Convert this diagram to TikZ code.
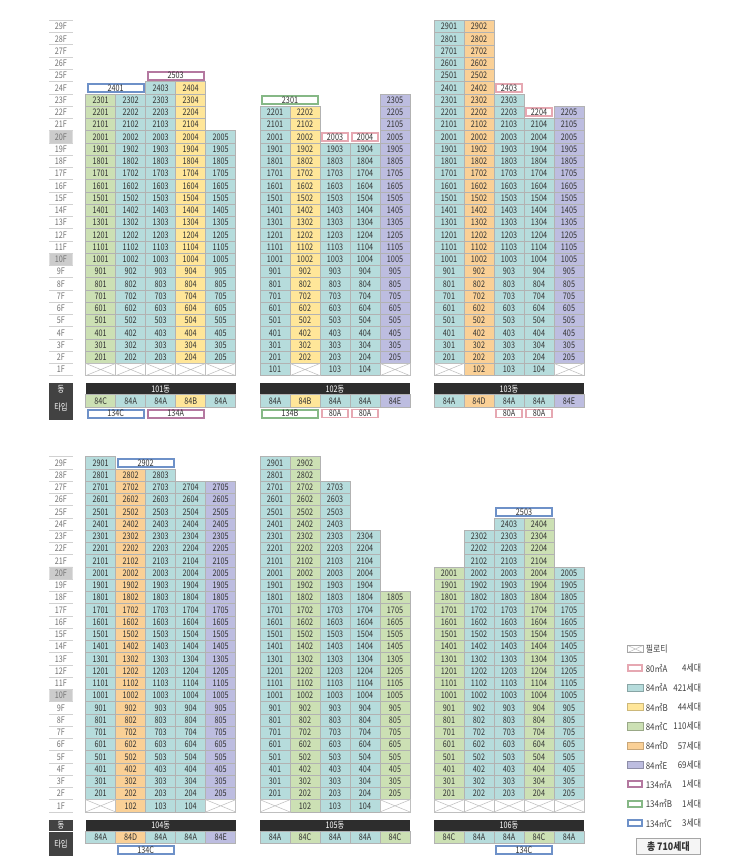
\documentclass[tikz,border=0pt]{standalone}
\usepackage{fontspec}
\setmainfont{Noto Sans CJK KR}
\newfontfamily\cellfont[FakeStretch=0.8]{Noto Sans CJK KR}
\newfontfamily\legfont[FakeStretch=0.85]{Noto Sans CJK KR}
\usepackage{tikz}

\definecolor{c84A}{HTML}{B6DCDC}
\definecolor{c84B}{HTML}{FFE699}
\definecolor{c84C}{HTML}{CCE0B4}
\definecolor{c84D}{HTML}{FAD096}
\definecolor{c84E}{HTML}{BDBDE0}
\definecolor{c80A}{HTML}{E6A8B2}
\definecolor{c134A}{HTML}{B478A0}
\definecolor{c134B}{HTML}{86B886}
\definecolor{c134C}{HTML}{6E91C8}
\definecolor{cbar}{HTML}{2D2D2D}

\def\cw{22.5pt}
\def\ch{9.1875pt}
\newcommand\cellsize{\cellfont\fontsize{6.8pt}{7pt}\selectfont}

\tikzset{
    cell/.style={draw=black!30, line width=0.4pt, inner sep=0pt, outer sep=0pt,
        minimum width=\cw, minimum height=\ch, font=\cellsize, text=black!80},
    a84A/.style={cell, fill=c84A},
    a84B/.style={cell, fill=c84B},
    a84C/.style={cell, fill=c84C},
    a84D/.style={cell, fill=c84D},
    a84E/.style={cell, fill=c84E},
    piloti/.style={cell, fill=white, draw=black!25,
        path picture={\draw[black!25, line width=0.4pt]
            (path picture bounding box.north west) -- (path picture bounding box.south east)
            (path picture bounding box.south west) -- (path picture bounding box.north east);}},
    ring/.style={cell, fill=white, line width=1.5pt,
        minimum width=\cw-3.3pt, minimum height=\ch-3.2pt},
    wide/.style={minimum width=2*\cw-3.3pt},
    r80A/.style={ring, draw=c80A, line width=1.2pt},
    r134A/.style={ring, draw=c134A},
    r134B/.style={ring, draw=c134B},
    r134C/.style={ring, draw=c134C},
    bar/.style={fill=cbar, text=white, inner sep=0pt, minimum width=5*\cw,
        minimum height=0.95*\ch, font=\cellsize},
    flr/.style={inner sep=0pt, minimum width=17.5pt, minimum height=\ch,
        font=\cellsize, text=black!55},
    flrline/.style={black!18, line width=0.6pt},
    hlfloor/.style={fill=black!20},
    hdr/.style={fill=cbar!90!white, text=white, inner sep=0pt, minimum width=17.5pt,
        font=\cellsize},
    lgfill/.style={inner sep=0pt, minimum width=11.4pt, minimum height=5.4pt, line width=0.6pt},
    lgring/.style={fill=white, inner sep=0pt, minimum width=10.4pt, minimum height=4.4pt, line width=1.6pt},
    lgpil/.style={piloti, draw=black!35, minimum width=11.4pt, minimum height=5.4pt, line width=0.6pt},
    legtext/.style={inner sep=0pt, text=black!75, font=\legfont\fontsize{7pt}{8pt}\selectfont},
    total/.style={draw=black!35, fill=black!4, line width=0.8pt, inner sep=0pt,
        minimum width=47.7pt, minimum height=12pt,
        font=\legfont\bfseries\fontsize{7.8pt}{8pt}\selectfont, text=black!80}
}

% one column of flats: column, lowest floor, highest floor, style
\newcommand\aptcol[4]{%
    \foreach \f in {#2,...,#3}{\node[#4] (b\bld-\f0#1) at (#1-0.5,29.5-\f) {\f0#1};}}
\newcommand\pilotis[1]{%
    \foreach \c in {#1}{\node[piloti] (b\bld-p\c) at (\c-0.5,28.5) {};}}
% outlined flat: centre x, floor, style, number
\newcommand\bigapt[4]{\node[#3] (b\bld-#4) at (#1,29.5-#2) {#4};}
\newcommand\dongbar{\node[bar] (d\bld) at (2.5,30.1) {\bld{}동};}
\newcommand\typecell[2]{\node[a#2] (t\bld-#1) at (#1-0.5,31.05) {#2};}
\newcommand\legitem[5]{%
    \node[#2] (sw#5) at (635.3,#1) {};
    \node[legtext, anchor=west] (lb#5) at (645.5,#1) {#3};
    \node[legtext, anchor=east] (ct#5) at (701.5,#1) {#4};}

\begin{document}
\begin{tikzpicture}[x=0.75pt, y=-0.75pt]
    \useasboundingbox (0,0) rectangle (750,856);

    % floor labels
    \foreach \blk/\yy in {top/20.4, bot/456.7}{
    \begin{scope}[shift={(49.3,\yy)}, x=17.5pt, y=-\ch]
        \fill[hlfloor] (0,9) rectangle (1,10) (0,19) rectangle (1,20);
        \foreach \r in {0,...,29} \draw[flrline] (0,\r) -- (1,\r);
        \foreach \f in {1,...,29} \node[flr] (\blk-f\f) at (0.5,29.5-\f) {\f F};
        \node[hdr, minimum height=0.95*\ch] (\blk-dong) at (0.5,30.1) {동};
        \node[hdr, minimum height=2*\ch] (\blk-type) at (0.5,31.6) {타입};
    \end{scope}}

    % 101
    \begin{scope}[shift={(85.7,20.4)}, x=\cw, y=-\ch]
    \def\bld{101}
    \aptcol{1}{2}{23}{a84C}
    \aptcol{2}{2}{23}{a84A}
    \aptcol{3}{2}{24}{a84A}
    \aptcol{4}{2}{24}{a84B}
    \aptcol{5}{2}{20}{a84A}
    \pilotis{1,...,5}
    \bigapt{1}{24}{r134C,wide}{2401}
    \bigapt{3}{25}{r134A,wide}{2503}
    \dongbar
    \typecell{1}{84C}\typecell{2}{84A}\typecell{3}{84A}\typecell{4}{84B}\typecell{5}{84A}
    \node[r134C,wide] (x101-1) at (1,32.1) {134C};
    \node[r134A,wide] (x101-2) at (3,32.1) {134A};
    \end{scope}

    % 102
    \begin{scope}[shift={(260,20.4)}, x=\cw, y=-\ch]
    \def\bld{102}
    \aptcol{1}{1}{22}{a84A}
    \aptcol{2}{2}{22}{a84B}
    \aptcol{3}{1}{19}{a84A}
    \aptcol{4}{1}{19}{a84A}
    \aptcol{5}{2}{23}{a84E}
    \pilotis{2,5}
    \bigapt{1}{23}{r134B,wide}{2301}
    \bigapt{2.5}{20}{r80A}{2003}
    \bigapt{3.5}{20}{r80A}{2004}
    \dongbar
    \typecell{1}{84A}\typecell{2}{84B}\typecell{3}{84A}\typecell{4}{84A}\typecell{5}{84E}
    \node[r134B,wide] (x102-1) at (1,32.1) {134B};
    \node[r80A] (x102-2) at (2.5,32.1) {80A};
    \node[r80A] (x102-3) at (3.5,32.1) {80A};
    \end{scope}

    % 103
    \begin{scope}[shift={(434,20.4)}, x=\cw, y=-\ch]
    \def\bld{103}
    \aptcol{1}{2}{29}{a84A}
    \aptcol{2}{1}{29}{a84D}
    \aptcol{3}{1}{23}{a84A}
    \aptcol{4}{1}{21}{a84A}
    \aptcol{5}{2}{22}{a84E}
    \pilotis{1,5}
    \bigapt{2.5}{24}{r80A}{2403}
    \bigapt{3.5}{22}{r80A}{2204}
    \dongbar
    \typecell{1}{84A}\typecell{2}{84D}\typecell{3}{84A}\typecell{4}{84A}\typecell{5}{84E}
    \node[r80A] (x103-1) at (2.5,32.1) {80A};
    \node[r80A] (x103-2) at (3.5,32.1) {80A};
    \end{scope}

    % 104
    \begin{scope}[shift={(85.7,456.7)}, x=\cw, y=-\ch]
    \def\bld{104}
    \aptcol{1}{2}{29}{a84A}
    \aptcol{2}{1}{28}{a84D}
    \aptcol{3}{1}{28}{a84A}
    \aptcol{4}{1}{27}{a84A}
    \aptcol{5}{2}{27}{a84E}
    \pilotis{1,5}
    \bigapt{2}{29}{r134C,wide}{2902}
    \dongbar
    \typecell{1}{84A}\typecell{2}{84D}\typecell{3}{84A}\typecell{4}{84A}\typecell{5}{84E}
    \node[r134C,wide] (x104-1) at (2,32.1) {134C};
    \end{scope}

    % 105
    \begin{scope}[shift={(260,456.7)}, x=\cw, y=-\ch]
    \def\bld{105}
    \aptcol{1}{2}{29}{a84A}
    \aptcol{2}{1}{29}{a84C}
    \aptcol{3}{1}{27}{a84A}
    \aptcol{4}{1}{23}{a84A}
    \aptcol{5}{2}{18}{a84C}
    \pilotis{1,5}
    \dongbar
    \typecell{1}{84A}\typecell{2}{84C}\typecell{3}{84A}\typecell{4}{84A}\typecell{5}{84C}
    \end{scope}

    % 106
    \begin{scope}[shift={(434,456.7)}, x=\cw, y=-\ch]
    \def\bld{106}
    \aptcol{1}{2}{20}{a84C}
    \aptcol{2}{2}{23}{a84A}
    \aptcol{3}{2}{24}{a84A}
    \aptcol{4}{2}{24}{a84C}
    \aptcol{5}{2}{20}{a84A}
    \pilotis{1,...,5}
    \bigapt{3}{25}{r134C,wide}{2503}
    \dongbar
    \typecell{1}{84C}\typecell{2}{84A}\typecell{3}{84A}\typecell{4}{84C}\typecell{5}{84A}
    \node[r134C,wide] (x106-1) at (3,32.1) {134C};
    \end{scope}

    % legend
    \legitem{649}{lgpil}{필로티}{}{pil}
    \legitem{668.3}{lgring, draw=c80A}{80㎡A}{4세대}{80A}
    \legitem{687.7}{lgfill, fill=c84A, draw=c84A!75!black}{84㎡A}{421세대}{84A}
    \legitem{707}{lgfill, fill=c84B, draw=c84B!80!black}{84㎡B}{44세대}{84B}
    \legitem{726.3}{lgfill, fill=c84C, draw=c84C!75!black}{84㎡C}{110세대}{84C}
    \legitem{745.7}{lgfill, fill=c84D, draw=c84D!80!black}{84㎡D}{57세대}{84D}
    \legitem{765}{lgfill, fill=c84E, draw=c84E!75!black}{84㎡E}{69세대}{84E}
    \legitem{784.3}{lgring, draw=c134A}{134㎡A}{1세대}{134A}
    \legitem{803.7}{lgring, draw=c134B}{134㎡B}{1세대}{134B}
    \legitem{823}{lgring, draw=c134C}{134㎡C}{3세대}{134C}
    \node[total] (total) at (668.35,846.8) {총 710세대};
\end{tikzpicture}
\end{document}
